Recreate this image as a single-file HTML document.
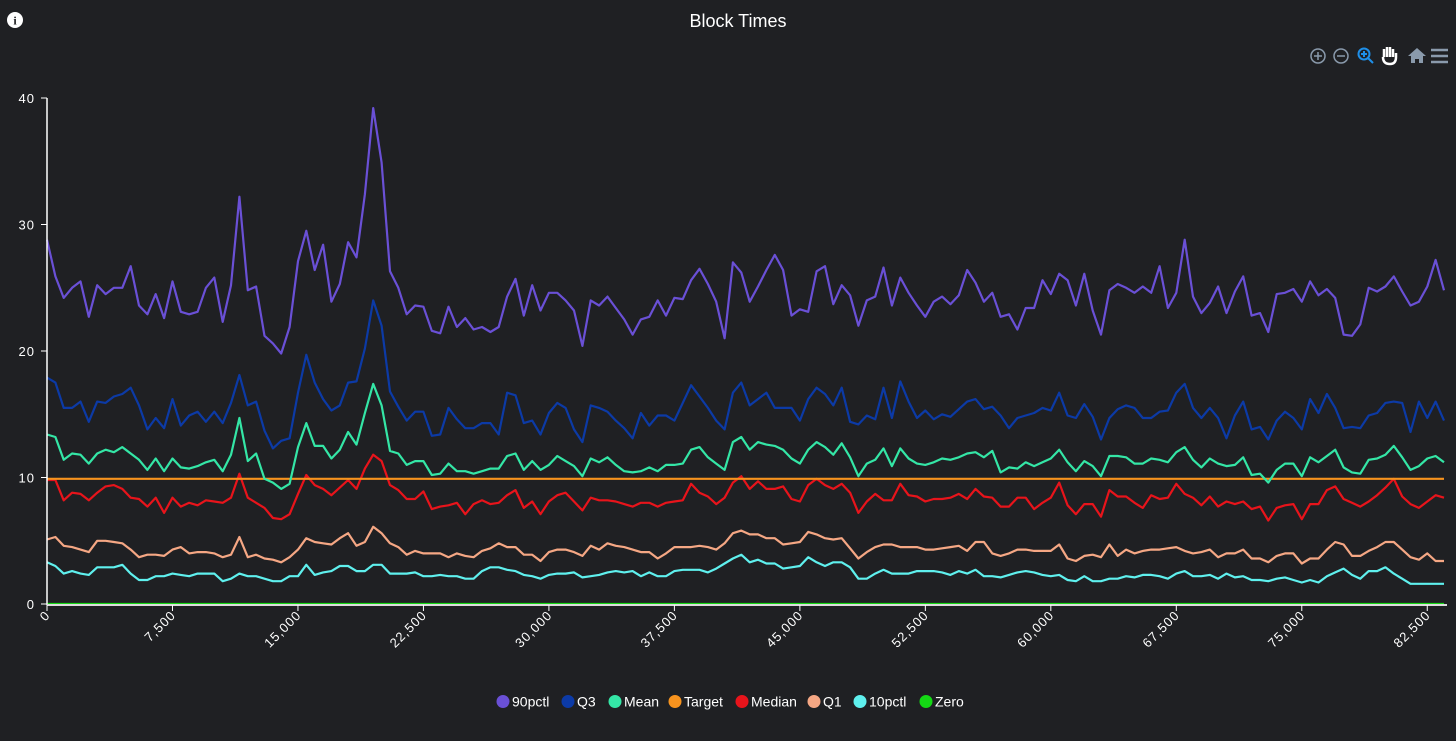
<!DOCTYPE html>
<html><head><meta charset="utf-8"><style>
html,body{margin:0;padding:0;background:#1f2023;}
body{width:1456px;height:741px;overflow:hidden;position:relative;font-family:"Liberation Sans",sans-serif;}
svg{position:absolute;left:0;top:0;}
</style></head><body>
<svg id="chart" width="1456" height="741">
  <circle cx="15" cy="20" r="8" fill="#fff"/>
  <text x="15" y="24.5" font-size="12" font-weight="bold" text-anchor="middle" fill="#1f2023" font-family="Liberation Serif, serif">i</text>
  <text x="738" y="27" font-size="18" text-anchor="middle" fill="#fff">Block Times</text>
  <g stroke="#8a9aac" stroke-width="1.5" fill="none">
    <g><circle cx="1318" cy="56" r="7"/><line x1="1314" y1="56" x2="1322" y2="56"/><line x1="1318" y1="52" x2="1318" y2="60"/></g>
    <g><circle cx="1341" cy="56" r="7"/><line x1="1337" y1="56" x2="1345" y2="56"/></g>
    <g stroke="#1e8fe8" stroke-width="2"><circle cx="1364" cy="54" r="5.5"/><line x1="1368" y1="58" x2="1373" y2="63"/><line x1="1361" y1="54" x2="1367" y2="54"/><line x1="1364" y1="51" x2="1364" y2="57"/></g>
    <g><path d="M1384 57 L1384 49 M1387 57 L1387 47 M1390 57 L1390 47 M1393 57 L1393 49 M1383 57 Q1383 64 1390 64 Q1396 64 1396 57 L1396 53" stroke="#fff" stroke-width="2.5"/></g>
    <g fill="#8a9aac" stroke="none"><path d="M1408 56 L1417 48 L1426 56 L1423 56 L1423 63 L1419 63 L1419 59 L1415 59 L1415 63 L1411 63 L1411 56 Z"/></g>
    <g stroke-width="2.5"><line x1="1431" y1="50" x2="1448" y2="50"/><line x1="1431" y1="56" x2="1448" y2="56"/><line x1="1431" y1="62" x2="1448" y2="62"/></g>
  </g>
  <g id="grid"></g>
  <g id="series"></g>
  <g id="axes"></g>
  <g id="legend"></g>
</svg>
<script>
const p90 = [28.8,25.9,24.2,25.0,25.5,22.7,25.2,24.5,25.0,25.0,26.7,23.6,22.9,24.5,22.6,25.5,23.1,22.9,23.1,25.0,25.8,22.3,25.2,32.2,24.8,25.1,21.2,20.6,19.8,21.9,27.1,29.5,26.4,28.4,23.9,25.3,28.6,27.4,32.4,39.2,34.9,26.3,25.0,22.9,23.6,23.5,21.6,21.4,23.5,21.9,22.6,21.7,21.9,21.5,21.9,
24.3,25.7,22.8,25.2,23.2,24.6,24.6,24.0,23.2,20.4,24.0,23.6,24.3,23.4,22.5,21.3,22.5,22.7,24.0,22.8,24.2,24.1,25.6,26.5,25.3,23.9,21.0,27.0,26.2,23.9,25.1,26.4,27.6,26.4,22.8,23.3,23.1,26.3,26.7,23.7,25.2,24.4,22.0,24.0,24.3,26.6,23.6,25.8,24.6,23.6,22.7,23.9,24.3,23.7,24.4,26.4,25.4,
23.9,24.6,22.7,22.9,21.7,23.4,23.4,25.6,24.5,26.1,25.6,23.6,26.1,23.2,21.3,24.8,25.3,25.0,24.6,25.1,24.6,26.7,23.4,24.6,28.8,24.3,23.0,23.8,25.1,23.0,24.7,25.9,22.8,23.0,21.5,24.5,24.6,24.9,23.9,25.5,24.4,24.9,24.2,21.3,21.2,22.1,25.0,24.7,25.1,25.9,24.7,23.6,23.9,25.1,27.2,24.8];
const q3 = [17.9,17.5,15.5,15.5,16.0,14.4,16.0,15.9,16.4,16.6,17.1,15.7,13.8,14.7,13.9,16.2,14.1,14.9,15.2,14.4,15.2,14.3,15.9,18.1,15.7,16.0,13.7,12.3,12.9,13.1,16.7,19.7,17.5,16.2,15.3,15.7,17.5,17.6,20.2,24.0,22.0,16.8,15.6,14.5,15.2,15.2,13.3,13.4,15.5,14.6,13.9,13.9,14.3,14.3,13.4,
16.7,16.5,14.3,14.5,13.4,15.1,15.9,15.5,13.8,12.8,15.7,15.5,15.2,14.5,13.9,13.1,15.1,14.1,14.9,14.9,14.5,15.9,17.3,16.4,15.5,14.5,13.8,16.7,17.5,15.7,16.2,16.7,15.5,15.5,15.5,14.5,16.2,17.1,16.6,15.7,17.1,14.4,14.2,14.9,14.6,17.1,14.7,17.6,16.0,14.7,15.3,14.6,15.0,14.8,15.4,16.0,16.2,
15.4,15.6,14.9,13.9,14.7,14.9,15.1,15.5,15.3,16.7,14.9,14.7,15.8,14.8,13.0,14.7,15.4,15.7,15.5,14.7,14.7,15.2,15.3,16.7,17.4,15.5,14.7,15.5,14.7,13.1,14.9,16.0,13.8,14.0,13.0,14.5,15.2,14.7,13.8,16.2,15.1,16.6,15.5,13.9,14.0,13.9,14.9,15.1,15.9,16.0,15.9,13.6,16.0,14.7,16.0,14.5];
const mean = [13.4,13.2,11.4,11.9,11.8,11.1,11.9,12.2,12.0,12.4,11.9,11.4,10.6,11.5,10.5,11.5,10.8,10.7,10.9,11.2,11.4,10.5,11.8,14.7,11.3,11.9,9.9,9.6,9.1,9.5,12.4,14.3,12.5,12.5,11.5,12.2,13.6,12.6,15.1,17.4,15.7,12.1,11.9,11.0,11.3,11.3,10.2,10.3,11.1,10.5,10.5,10.3,10.5,10.7,10.7,
11.7,11.9,10.6,11.3,10.6,11.0,11.7,11.3,10.9,10.1,11.5,11.2,11.6,11.0,10.5,10.4,10.5,10.8,10.5,11.0,11.0,11.1,12.2,12.4,11.6,11.1,10.6,12.8,13.2,12.2,12.8,12.6,12.5,12.2,11.5,11.1,12.2,12.8,12.4,11.8,12.7,11.6,10.1,11.1,11.4,12.3,10.9,12.3,11.5,11.1,11.0,11.2,11.5,11.4,11.6,11.9,12.0,
11.6,12.1,10.4,10.8,10.7,11.2,10.9,11.2,11.5,12.2,11.2,10.5,11.3,10.9,10.1,11.7,11.7,11.6,11.1,11.1,11.5,11.4,11.2,12.0,12.4,11.4,10.8,11.5,11.1,10.9,11.0,11.6,10.2,10.3,9.6,10.6,11.1,11.1,10.1,11.6,11.2,11.7,12.2,10.8,10.4,10.3,11.4,11.5,11.8,12.5,11.6,10.6,10.9,11.5,11.7,11.2];
const target = 9.9;
const median = [9.8,9.8,8.2,8.8,8.7,8.2,8.8,9.3,9.4,9.1,8.4,8.3,7.7,8.4,7.2,8.4,7.7,8.0,7.8,8.2,8.1,8.0,8.4,10.3,8.4,8.0,7.6,6.8,6.7,7.1,8.7,10.2,9.4,9.1,8.6,9.2,9.8,9.1,10.7,11.8,11.3,9.4,9.0,8.3,8.3,8.9,7.5,7.7,7.8,8.0,7.1,7.9,8.2,7.9,8.0,
8.6,9.0,7.6,8.1,7.1,8.1,8.6,8.8,8.1,7.4,8.4,8.2,8.2,8.1,7.9,7.7,8.0,8.0,7.7,8.0,8.1,8.2,9.5,8.8,8.5,7.9,8.4,9.6,10.1,9.1,9.7,9.1,9.1,9.3,8.3,8.1,9.4,9.9,9.4,9.1,9.5,8.8,7.2,8.1,8.7,8.2,8.2,9.5,8.6,8.5,8.1,8.3,8.3,8.4,8.7,8.3,9.1,
8.5,8.4,7.7,7.7,8.4,8.4,7.5,8.0,8.4,9.6,7.8,7.1,7.9,7.9,6.9,9.0,8.5,8.5,8.0,7.6,8.6,8.3,8.4,9.5,8.7,8.4,7.8,8.5,7.7,8.1,7.9,8.1,7.5,7.7,6.6,7.6,7.8,7.9,6.7,7.9,7.9,9.0,9.3,8.3,8.0,7.7,8.1,8.6,9.2,9.9,8.5,7.9,7.6,8.1,8.6,8.4];
const q1 = [5.1,5.3,4.6,4.5,4.3,4.1,5.0,5.0,4.9,4.8,4.3,3.7,3.9,3.9,3.8,4.3,4.5,4.0,4.1,4.1,4.0,3.7,3.9,5.3,3.7,3.9,3.6,3.5,3.3,3.7,4.3,5.2,4.9,4.8,4.7,5.2,5.6,4.6,4.9,6.1,5.6,4.8,4.5,3.9,4.2,4.0,4.0,4.0,3.7,4.0,3.8,3.7,4.2,4.4,4.8,
4.5,4.5,3.9,3.9,3.4,4.1,4.3,4.3,4.1,3.8,4.6,4.3,4.8,4.6,4.5,4.3,4.1,4.1,3.6,4.0,4.5,4.5,4.5,4.6,4.5,4.3,4.8,5.6,5.8,5.5,5.5,5.2,5.2,4.7,4.8,4.9,5.7,5.5,5.2,5.1,5.2,4.4,3.6,4.1,4.5,4.7,4.7,4.5,4.5,4.5,4.3,4.3,4.4,4.5,4.6,4.2,4.9,
4.9,4.0,3.8,4.0,4.3,4.3,4.2,4.2,4.2,4.7,3.6,3.4,3.8,3.9,3.7,4.7,3.8,4.3,4.0,4.2,4.3,4.3,4.4,4.5,4.2,4.0,4.1,4.3,3.7,4.0,4.0,4.3,3.6,3.6,3.3,3.8,4.0,4.0,3.2,3.6,3.6,4.3,4.9,4.7,3.8,3.8,4.2,4.5,4.9,4.9,4.3,3.7,3.5,4.0,3.4,3.4];
const p10 = [3.3,3.0,2.4,2.6,2.4,2.3,2.9,2.9,2.9,3.1,2.4,1.9,1.9,2.2,2.2,2.4,2.3,2.2,2.4,2.4,2.4,1.8,2.0,2.4,2.2,2.2,2.0,1.8,1.8,2.2,2.2,3.1,2.3,2.5,2.6,3.0,3.0,2.6,2.6,3.1,3.1,2.4,2.4,2.4,2.5,2.2,2.2,2.3,2.2,2.2,2.0,2.0,2.6,2.9,2.9,
2.7,2.6,2.3,2.2,2.0,2.3,2.4,2.4,2.5,2.1,2.2,2.3,2.5,2.6,2.5,2.6,2.2,2.5,2.2,2.2,2.6,2.7,2.7,2.7,2.5,2.8,3.2,3.6,3.9,3.3,3.5,3.2,3.2,2.8,2.9,3.0,3.7,3.3,3.0,3.3,3.3,2.9,2.0,2.0,2.4,2.7,2.4,2.4,2.4,2.6,2.6,2.6,2.5,2.3,2.6,2.4,2.7,
2.2,2.2,2.1,2.3,2.5,2.6,2.5,2.3,2.2,2.3,1.9,1.8,2.2,1.8,1.8,2.0,2.0,2.2,2.1,2.3,2.3,2.2,2.0,2.4,2.6,2.2,2.2,2.3,2.0,2.4,2.1,2.2,1.9,1.9,1.8,2.0,2.1,1.9,1.7,1.9,1.7,2.2,2.5,2.8,2.3,2.0,2.6,2.6,2.9,2.4,2.0,1.6,1.6,1.6,1.6,1.6];
const blockStep = 500;
const xTickValues = [0,7500,15000,22500,30000,37500,45000,52500,60000,67500,75000,82500];
const xTickLabels = ["0","7,500","15,000","22,500","30,000","37,500","45,000","52,500","60,000","67,500","75,000","82,500"];
const yTickValues = [0,10,20,30,40];
const yTickLabels = ["0","10","20","30","40"];

const NS="http://www.w3.org/2000/svg";
const X0=47, X1=1447, Y0=604, Y1=98;
const XMAX=83680, YMAX=40;
function xs(b){return X0+(b/XMAX)*(X1-X0);}
function ys(v){return Y0-(v/YMAX)*(Y0-Y1);}
function mk(tag,attrs,parent){const e=document.createElementNS(NS,tag);for(const k in attrs)e.setAttribute(k,attrs[k]);parent.appendChild(e);return e;}

const seriesG=document.getElementById('series');
const axesG=document.getElementById('axes');
const legendG=document.getElementById('legend');

function drawLine(vals,color,name){
  const d=vals.map((v,i)=>(i?'L':'M')+xs(i*blockStep).toFixed(1)+' '+ys(v).toFixed(1)).join(' ');
  const p=mk('path',{d:d,stroke:color,'stroke-width':2.2,fill:'none','stroke-linejoin':'round'},seriesG);
  
  
}
const nPts=p90.length;
const zeroVals=p90.map(()=>0);
const targetVals=p90.map(()=>target);
drawLine(zeroVals,'#14d814','zero-line');
drawLine(p10,'#5ff0ee','10pctl-line');
drawLine(q1,'#f5a784','q1-line');
drawLine(median,'#e8141b','median-line');
drawLine(targetVals,'#f7931e','target-line');
drawLine(mean,'#34e6a6','mean-line');
drawLine(q3,'#0c3aa6','q3-line');
drawLine(p90,'#6a50d6','90pctl-line');

// axes
const ya=mk('line',{x1:X0,y1:Y1,x2:X0,y2:Y0+1,stroke:'#fff','stroke-width':1.5},axesG);


const xa=mk('line',{x1:X0,y1:Y0+1,x2:X1,y2:Y0+1,stroke:'#ddd','stroke-width':2},axesG);


yTickValues.forEach((v,i)=>{
  const t=mk('line',{x1:X0-6,y1:ys(v),x2:X0,y2:ys(v),stroke:'#fff','stroke-width':1},axesG);
  
  
  const l=mk('text',{x:35,y:ys(v)+5,'font-size':13,'text-anchor':'end',fill:'#fff','letter-spacing':'1'},axesG);
  l.textContent=yTickLabels[i];
  
  
});
xTickValues.forEach((v,i)=>{
  const x=xs(v);
  const t=mk('line',{x1:x,y1:Y0+1,x2:x,y2:Y0+7,stroke:'#fff','stroke-width':1},axesG);
  
  
  const l=mk('text',{x:x+4,y:Y0+12,'font-size':13,'text-anchor':'end',fill:'#fff','letter-spacing':'1',transform:'rotate(-45 '+(x+4)+' '+(Y0+12)+')'},axesG);
  l.textContent=xTickLabels[i];
  
  
});

// legend
const legendNames=["90pctl","Q3","Mean","Target","Median","Q1","10pctl","Zero"];
const legendColors=["#6a50d6","#0c3aa6","#34e6a6","#f7931e","#e8141b","#f5a784","#5ff0ee","#14d814"];
const legendX=[503,568,615,675,742,814,860,926];
legendNames.forEach((n,i)=>{
  const g=mk('g',{},legendG);
  
  
  mk('circle',{cx:legendX[i],cy:701.5,r:6.5,fill:legendColors[i]},g);
  const t=mk('text',{x:legendX[i]+9,y:706.5,'font-size':14,fill:'#fff'},g);
  t.textContent=n;
});
</script>
</body></html>
